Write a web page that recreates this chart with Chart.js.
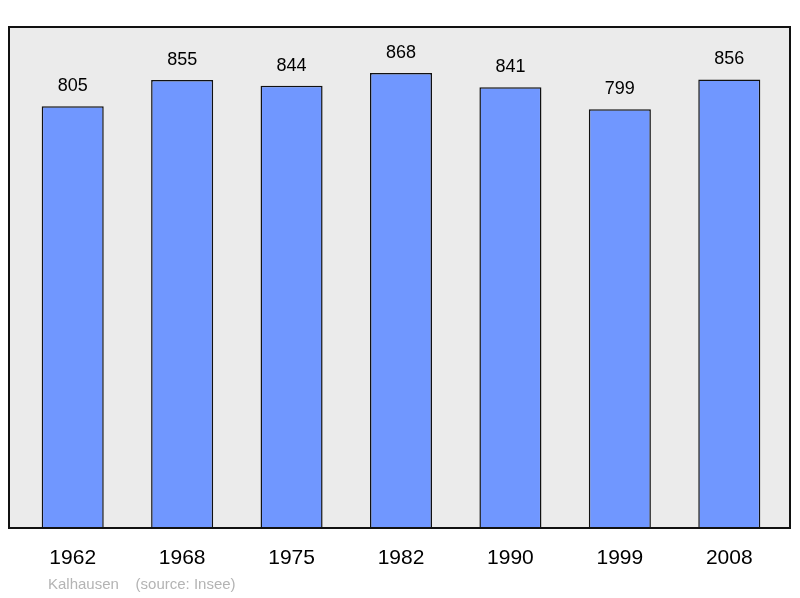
<!DOCTYPE html>
<html>
<head>
<meta charset="utf-8">
<script src="https://cdn.jsdelivr.net/npm/chart.js@4"></script>
<style>
body { margin: 0; background: #fff; }
#wrap { width: 800px; height: 598px; position: relative; }
</style>
</head>
<body>
<div id="wrap"><canvas id="c" width="800" height="598"></canvas></div>
<script>
const years = ["1962", "1968", "1975", "1982", "1990", "1999", "2008"];
const population = [805, 855, 844, 868, 841, 799, 856];

// frame, year labels, values and caption
const decor = {
    id: "decor",
    beforeDraw(chart) {
        const ctx = chart.ctx;
        const a = chart.chartArea;
        ctx.save();
        ctx.fillStyle = "#ebebeb";
        ctx.fillRect(9, a.top, 781, a.bottom - a.top);
        ctx.restore();
    },
    afterDraw(chart) {
        const ctx = chart.ctx;
        const a = chart.chartArea;
        const x = chart.scales.x, y = chart.scales.y;
        ctx.save();
        ctx.strokeStyle = "#111";
        ctx.lineWidth = 2;
        ctx.strokeRect(9, a.top, 781, a.bottom - a.top);
        ctx.fillStyle = "#000";
        ctx.textAlign = "center";
        ctx.font = "18px 'Liberation Sans', Arial, sans-serif";
        ctx.textBaseline = "alphabetic";
        population.forEach((v, i) => {
            ctx.fillText(String(v), x.getPixelForValue(i), y.getPixelForValue(v) - 15);
        });
        ctx.font = "21px 'Liberation Sans', Arial, sans-serif";
        years.forEach((t, i) => {
            ctx.fillText(t, x.getPixelForValue(i), a.bottom + 36);
        });
        ctx.textAlign = "left";
        ctx.fillStyle = "#b4b4b4";
        ctx.font = "15px 'Liberation Sans', Arial, sans-serif";
        ctx.fillText("Kalhausen    (source: Insee)", 48, 589);
        ctx.restore();
    }
};

new Chart(document.getElementById("c"), {
    type: "bar",
    data: {
        labels: years,
        datasets: [{
            data: population,
            backgroundColor: "#7097ff",
            borderColor: "#111",
            borderWidth: 1.5,
            barPercentage: 0.567,
            categoryPercentage: 1
        }]
    },
    options: {
        responsive: false,
        animation: false,
        layout: { padding: { left: 18, right: 16, top: 27, bottom: 70 } },
        plugins: { legend: { display: false }, tooltip: { enabled: false } },
        scales: {
            x: { display: false, offset: true },
            y: { display: false, min: 0, max: 956 }
        }
    },
    plugins: [decor]
});
</script>
</body>
</html>
